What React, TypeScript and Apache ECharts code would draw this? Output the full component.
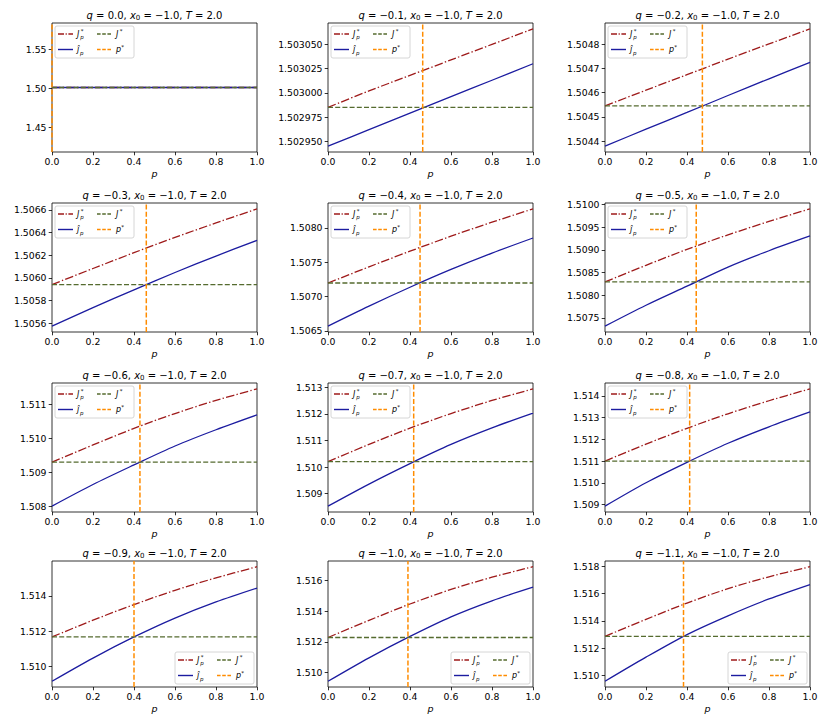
import React, { useEffect, useRef } from "react";
import * as echarts from "echarts";

// ---------- data ----------
const P = [0, 0.2, 0.4, 0.6, 0.8, 1.0];
const Q_LABELS = ["0.0", "−0.1", "−0.2", "−0.3", "−0.4", "−0.5", "−0.6", "−0.7", "−0.8", "−0.9", "−1.0", "−1.1"];

// J*_p (dash-dot dark red)
const J_STAR_P: number[][] = [
  [1.50125, 1.50125, 1.50125, 1.50125, 1.50125, 1.50125],
  [1.502985, 1.503002, 1.503018, 1.503034, 1.50305, 1.503066],
  [1.504545, 1.50461, 1.504674, 1.504738, 1.504801, 1.504863],
  [1.50594, 1.506082, 1.506222, 1.506357, 1.506485, 1.506609],
  [1.507197, 1.507432, 1.50766, 1.507878, 1.508082, 1.508276],
  [1.508293, 1.50866, 1.50901, 1.50933, 1.509625, 1.509902],
  [1.5093, 1.50981, 1.5103, 1.51074, 1.51113, 1.51147],
  [1.510203, 1.51085, 1.51146, 1.51201, 1.5125, 1.512937],
  [1.511, 1.51178, 1.51251, 1.51318, 1.51378, 1.514328],
  [1.511664, 1.51262, 1.51351, 1.51432, 1.51503, 1.515664],
  [1.51228, 1.5134, 1.51447, 1.51542, 1.51622, 1.516906],
  [1.512867, 1.51411, 1.5153, 1.51635, 1.51722, 1.517952],
];

// ĵ_p (solid blue)
const J_HAT_P: number[][] = [
  [1.50125, 1.50125, 1.50125, 1.50125, 1.50125, 1.50125],
  [1.502945, 1.502962, 1.502979, 1.502996, 1.503013, 1.50303],
  [1.504379, 1.504449, 1.504518, 1.504588, 1.504657, 1.504725],
  [1.505573, 1.505737, 1.505894, 1.506047, 1.506192, 1.506331],
  [1.506569, 1.50686, 1.507135, 1.507394, 1.507632, 1.507852],
  [1.50732, 1.50778, 1.5082, 1.50862, 1.50898, 1.509305],
  [1.508, 1.50864, 1.50922, 1.50978, 1.51026, 1.5107],
  [1.50853, 1.50936, 1.51013, 1.51085, 1.51147, 1.512025],
  [1.508922, 1.51, 1.51094, 1.51182, 1.51258, 1.513266],
  [1.50914, 1.51046, 1.511664, 1.51274, 1.51366, 1.514449],
  [1.509417, 1.51095, 1.51235, 1.51363, 1.51468, 1.515569],
  [1.50959, 1.51135, 1.513, 1.51437, 1.5156, 1.516651],
];

// J* (horizontal dashed green)
const J_STAR = [1.50125, 1.502985, 1.504545, 1.50594, 1.507197, 1.508293, 1.5093, 1.510203, 1.511, 1.511664, 1.51228, 1.512867];
// p* (vertical dashed orange)
const P_STAR = [0, 0.462, 0.475, 0.46, 0.449, 0.445, 0.429, 0.418, 0.413, 0.4, 0.39, 0.383];

const X_TICKS = [0, 0.2, 0.4, 0.6, 0.8, 1.0];
const Y_TICKS: number[][] = [
  [1.45, 1.5, 1.55],
  [1.50295, 1.502975, 1.503, 1.503025, 1.50305],
  [1.5044, 1.5045, 1.5046, 1.5047, 1.5048],
  [1.5056, 1.5058, 1.506, 1.5062, 1.5064, 1.5066],
  [1.5065, 1.507, 1.5075, 1.508],
  [1.5075, 1.508, 1.5085, 1.509, 1.5095, 1.51],
  [1.508, 1.509, 1.51, 1.511],
  [1.509, 1.51, 1.511, 1.512, 1.513],
  [1.509, 1.51, 1.511, 1.512, 1.513, 1.514],
  [1.51, 1.512, 1.514],
  [1.51, 1.512, 1.514, 1.516],
  [1.51, 1.512, 1.514, 1.516, 1.518],
];
const Y_DECIMALS = [2, 6, 4, 4, 4, 4, 3, 3, 3, 3, 3, 3];

// ---------- styling / layout ----------
const FONT = "DejaVu Sans";
const RED = "#9e1a1a";
const BLUE = "#1c1ca0";
const GREEN = "#556b2f";
const ORANGE = "#ff8c00";
const DASH_DOT = [8.5, 2.2, 1.4, 2.2];
const DASH = [5, 2.2];

const COL_LEFT = [52, 328, 605];
const ROW_TOP = [23, 203, 383, 561];
const ROW_H = [129, 129, 129, 126];
const PW = 205;

function yExtent(i: number): [number, number] {
  const vals = [...J_STAR_P[i], ...J_HAT_P[i], J_STAR[i]];
  let lo = Math.min(...vals);
  let hi = Math.max(...vals);
  if (hi - lo < 1e-12) {
    lo -= 0.05 * Math.abs(lo);
    hi += 0.05 * Math.abs(hi);
  }
  const m = (hi - lo) * 0.05;
  return [lo - m, hi + m];
}

function txt(t: string, x: number, y: number, size: number, italic: boolean) {
  return {
    type: "text",
    x,
    y,
    z: 60,
    silent: true,
    style: {
      text: t,
      fontSize: size,
      fontFamily: FONT,
      fontStyle: italic ? "italic" : "normal",
      fill: "#000",
      align: "left",
      verticalAlign: "middle",
    },
  };
}

function legendLabel(kind: string, x: number, y: number): any[] {
  const b = 8;
  const s = 5.5;
  if (kind === "Jp") return [txt("J", x, y, b, true), txt("*", x + 3.8, y - 2.8, s, false), txt("p", x + 3.2, y + 3, s, true)];
  if (kind === "jh") return [txt("ĵ", x, y, b, true), txt("p", x + 3, y + 3, s, true)];
  if (kind === "J") return [txt("J", x, y, b, true), txt("*", x + 3.8, y - 2.8, s, false)];
  return [txt("p", x, y, b, true), txt("*", x + 5.3, y - 2.8, s, false)];
}

function handle(x1: number, x2: number, y: number, color: string, dash: number[] | null, w: number) {
  return {
    type: "line",
    z: 60,
    silent: true,
    shape: { x1, y1: y, x2, y2: y },
    style: { stroke: color, lineWidth: w, lineDash: dash || undefined },
  };
}

function buildLegend(bx: number, by: number): any[] {
  const W = 79;
  const H = 32;
  const r1 = by + 8;
  const r2 = by + 23.5;
  return [
    {
      type: "rect",
      z: 55,
      silent: true,
      shape: { x: bx, y: by, width: W, height: H, r: 2 },
      style: { fill: "rgba(255,255,255,0.8)", stroke: "#cccccc", lineWidth: 0.8 },
    },
    handle(bx + 3, bx + 18, r1, RED, [6, 1.6, 1.2, 1.6], 1.4),
    ...legendLabel("Jp", bx + 22, r1),
    handle(bx + 3, bx + 18, r2, BLUE, null, 1.4),
    ...legendLabel("jh", bx + 22, r2),
    handle(bx + 42, bx + 57, r1, GREEN, [3.6, 1.6], 1.4),
    ...legendLabel("J", bx + 61, r1),
    handle(bx + 42, bx + 57, r2, ORANGE, [3.6, 1.6], 1.4),
    ...legendLabel("p", bx + 61, r2),
  ];
}

export default function App() {
  const ref = useRef<HTMLDivElement>(null);

  useEffect(() => {
    if (!ref.current) return;
    const chart = echarts.init(ref.current, undefined, { renderer: "svg" });

    const grids: any[] = [];
    const xAxes: any[] = [];
    const yAxes: any[] = [];
    const series: any[] = [];
    const graphics: any[] = [];

    for (let i = 0; i < 12; i++) {
      const r = Math.floor(i / 3);
      const c = i % 3;
      const left = COL_LEFT[c];
      const top = ROW_TOP[r];
      const h = ROW_H[r];
      const [ymin, ymax] = yExtent(i);
      const dec = Y_DECIMALS[i];

      grids.push({
        left,
        top,
        width: PW,
        height: h,
        show: true,
        borderColor: "#000",
        borderWidth: 0.8,
        backgroundColor: "transparent",
        containLabel: false,
        outerBoundsMode: "none",
      });

      xAxes.push({
        type: "value",
        gridIndex: i,
        min: 0,
        max: 1,
        interval: 0.2,
        name: "p",
        nameLocation: "middle",
        nameGap: 16,
        nameTextStyle: { fontFamily: FONT, fontSize: 9.5, fontStyle: "italic", color: "#000" },
        axisLine: { show: false },
        axisTick: { show: true, length: 3.3, lineStyle: { color: "#000", width: 0.8 }, customValues: X_TICKS },
        axisLabel: {
          show: true,
          margin: 5,
          fontFamily: FONT,
          fontSize: 9.3,
          color: "#000",
          customValues: X_TICKS,
          formatter: (v: number) => v.toFixed(1),
        },
        splitLine: { show: false },
      });

      yAxes.push({
        type: "value",
        gridIndex: i,
        min: ymin,
        max: ymax,
        scale: true,
        axisLine: { show: false },
        axisTick: { show: true, length: 3.3, lineStyle: { color: "#000", width: 0.8 }, customValues: Y_TICKS[i] },
        axisLabel: {
          show: true,
          margin: 5.5,
          fontFamily: FONT,
          fontSize: 9.3,
          color: "#000",
          customValues: Y_TICKS[i],
          formatter: (v: number) => v.toFixed(dec),
        },
        splitLine: { show: false },
      });

      series.push({
        type: "line",
        name: "Jp",
        xAxisIndex: i,
        yAxisIndex: i,
        data: P.map((p, k) => [p, J_STAR_P[i][k]]),
        symbol: "none",
        smooth: 0.3,
        silent: true,
        z: 2,
        lineStyle: { color: RED, width: 1.3, type: DASH_DOT },
      });
      series.push({
        type: "line",
        name: "jhat",
        xAxisIndex: i,
        yAxisIndex: i,
        data: P.map((p, k) => [p, J_HAT_P[i][k]]),
        symbol: "none",
        smooth: 0.3,
        silent: true,
        z: 3,
        lineStyle: { color: BLUE, width: 1.3, type: "solid" },
      });
      series.push({
        type: "line",
        name: "Jstar",
        xAxisIndex: i,
        yAxisIndex: i,
        data: [
          [0, J_STAR[i]],
          [1, J_STAR[i]],
        ],
        symbol: "none",
        silent: true,
        z: 4,
        lineStyle: { color: GREEN, width: 1.3, type: DASH },
      });
      series.push({
        type: "line",
        name: "pstar",
        xAxisIndex: i,
        yAxisIndex: i,
        data: [
          [P_STAR[i], ymin],
          [P_STAR[i], ymax],
        ],
        symbol: "none",
        silent: true,
        z: 5,
        lineStyle: { color: ORANGE, width: 1.5, type: DASH },
      });

      // title
      graphics.push({
        type: "text",
        x: left + PW / 2,
        y: top - 8,
        z: 60,
        silent: true,
        style: {
          text: `{i|q}{n| = ${Q_LABELS[i]}, }{i|x}{s|0}{n| = −1.0, }{i|T}{n| = 2.0}`,
          align: "center",
          verticalAlign: "middle",
          fontSize: 10,
          fontFamily: FONT,
          fill: "#000",
          rich: {
            i: { fontSize: 10, fontFamily: FONT, fontStyle: "italic", fill: "#000", lineHeight: 12 },
            n: { fontSize: 10, fontFamily: FONT, fontStyle: "normal", fill: "#000", lineHeight: 12 },
            s: { fontSize: 7, fontFamily: FONT, fontStyle: "normal", fill: "#000", lineHeight: 6, verticalAlign: "bottom" },
          },
        },
      });

      // legend
      if (r < 3) {
        graphics.push(...buildLegend(left + 3, top + 3));
      } else {
        graphics.push(...buildLegend(left + PW - 3 - 79, top + h - 3 - 32));
      }
    }

    chart.setOption({
      animation: false,
      backgroundColor: "#fff",
      grid: grids,
      xAxis: xAxes,
      yAxis: yAxes,
      series,
      graphic: { elements: graphics },
    });

    return () => {
      chart.dispose();
    };
  }, []);

  return (
    <div
      ref={ref}
      style={{ position: "absolute", left: 0, top: 0, width: 830, height: 727, background: "#fff" }}
    />
  );
}
